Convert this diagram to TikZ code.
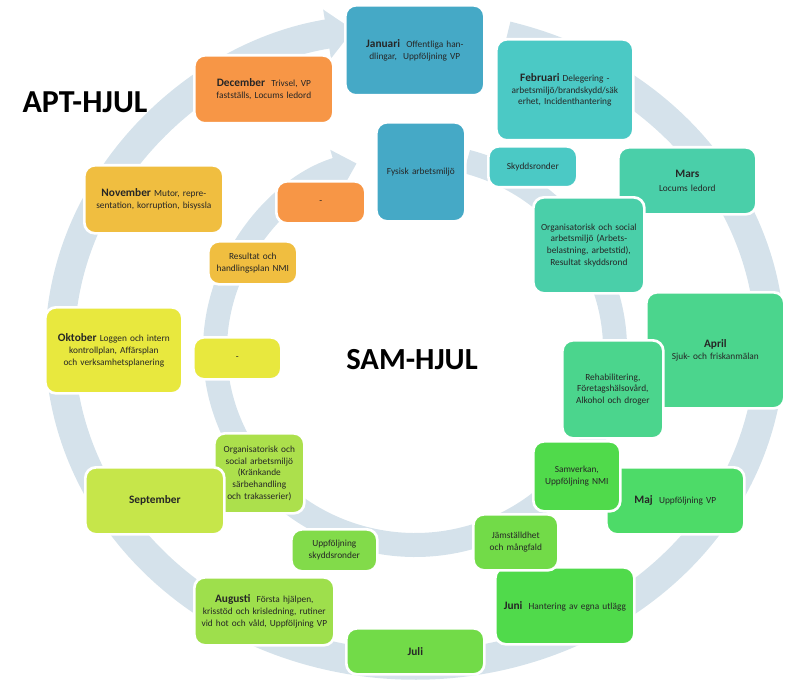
\documentclass[tikz,border=0pt]{standalone}
\usepackage{fontspec}
\setmainfont{Carlito}
\usetikzlibrary{arrows.meta}
\definecolor{ring}{HTML}{D5E2EB}
\definecolor{cJan}{HTML}{45A9C6}
\definecolor{cFeb}{HTML}{4BC9C5}
\definecolor{cMar}{HTML}{4ACFA9}
\definecolor{cApr}{HTML}{4BD58D}
\definecolor{cMaj}{HTML}{4DDB68}
\definecolor{cJun}{HTML}{50DA4B}
\definecolor{cJul}{HTML}{72DB48}
\definecolor{cUpp}{HTML}{82DB4A}
\definecolor{cAug}{HTML}{9EDF4C}
\definecolor{cOrgK}{HTML}{ACE04C}
\definecolor{cSep}{HTML}{C6E64A}
\definecolor{cOkt}{HTML}{E8E83E}
\definecolor{cNov}{HTML}{F0BE40}
\definecolor{cDec}{HTML}{F79646}
\begin{document}
\begin{tikzpicture}[x=0.75pt,y=-0.75pt,
  bx/.style n args={4}{draw=white,line width=2pt,rounded corners=8pt,anchor=north west,
    minimum width={(#3-#1)*0.75pt},minimum height={(#4-#2)*0.75pt},
    text width={(#3-#1-12)*0.75pt},align=center,inner sep=2pt,
    font=\fontsize{7pt}{8.8pt}\selectfont,text=black!85},
  ringline/.style={ring,line width=22pt,-{Triangle[width=36pt,length=20pt]}}]
\useasboundingbox (0,0) rectangle (812,684);
% rings
\draw[ringline] (506.9,35.9) arc[start angle=75,end angle=-260,x radius=266.25pt,y radius=240pt];
\draw[ringline,line width=18pt,-{Triangle[width=30pt,length=16pt]}] (466.8,161.6) arc[start angle=75,end angle=-253,x radius=150pt,y radius=146.25pt];
% titles
\node[font=\bfseries\fontsize{24pt}{28pt}\selectfont] (apt) at (85,102) {APT-HJUL};
\node[font=\bfseries\fontsize{23pt}{28pt}\selectfont] (sam) at (412,360) {SAM-HJUL};
% boxes
\node[bx={344}{4}{483}{94},fill=cJan] (jan) at (344,4) {\textbf{\fontsize{8.5pt}{10pt}\selectfont Januari}\ \ Offentliga handlingar,\ \ Uppföljning VP};
\node[bx={375}{121}{464}{220},fill=cJan] (fys) at (375,121) {Fysisk arbetsmiljö};
\node[bx={495}{38}{632}{139},fill=cFeb] (feb) at (495,38) {\textbf{\fontsize{8.5pt}{10pt}\selectfont Februari} Delegering - arbetsmiljö/brandskydd/säk erhet, Incidenthantering};
\node[bx={487}{145}{576}{186},fill=cFeb] (sky) at (487,145) {Skyddsronder};
\node[bx={617}{146}{755}{213},fill=cMar] (mar) at (617,146) {\textbf{\fontsize{8.5pt}{10pt}\selectfont Mars}\\[2pt]Locums ledord};
\node[bx={532}{196}{643}{292},fill=cMar] (org) at (532,196) {Organisatorisk och social arbetsmiljö (Arbetsbelastning, arbetstid), Resultat skyddsrond};
\node[bx={645}{291}{783}{407},fill=cApr] (apr) at (645,291) {\textbf{\fontsize{8.5pt}{10pt}\selectfont April}\\Sjuk- och friskanmälan};
\node[bx={561}{339}{662}{437},fill=cApr] (reh) at (561,339) {Rehabilitering, Företagshälsovård, Alkohol och droger};
\node[bx={605}{466}{743}{533},fill=cMaj] (maj) at (605,466) {\textbf{\fontsize{8.5pt}{10pt}\selectfont Maj}\ \ Uppföljning VP};
\node[bx={532}{440}{619}{510},fill=cJun] (sam2) at (532,440) {Samverkan, Uppföljning NMI};
\node[bx={494}{566}{633}{643},fill=cJun] (jun) at (494,566) {\textbf{\fontsize{8.5pt}{10pt}\selectfont Juni}\ \ Hantering av egna utlägg};
\node[bx={472}{513}{557}{569},fill=cJul] (jam) at (472,513) {Jämställdhet och mångfald};
\node[bx={345}{627}{483}{673},fill=cJul] (jul) at (345,627) {\textbf{\fontsize{8.5pt}{10pt}\selectfont Juli}};
\node[bx={290}{528}{376}{570},fill=cUpp] (upp) at (290,528) {Uppföljning skyddsronder};
\node[bx={193}{576}{333}{644},fill=cAug] (aug) at (193,576) {\textbf{\fontsize{8.5pt}{10pt}\selectfont Augusti}\ \ Första hjälpen, krisstöd och krisledning, rutiner vid hot och våld, Uppföljning VP};
\node[bx={213}{432}{303}{512},fill=cOrgK] (orgk) at (213,432) {Organisatorisk och social arbetsmiljö (Kränkande särbehandling och trakasserier)};
\node[bx={84}{466}{223}{533},fill=cSep] (sep) at (84,466) {\textbf{\fontsize{8.5pt}{10pt}\selectfont September}};
\node[bx={44}{306}{181}{392},fill=cOkt] (okt) at (44,306) {\textbf{\fontsize{8.5pt}{10pt}\selectfont Oktober} Loggen och intern kontrollplan, Affärsplan och verksamhetsplanering};
\node[bx={192}{336}{280}{378},fill=cOkt] (oktd) at (192,336) {-};
\node[bx={83}{164}{222}{232},fill=cNov] (nov) at (83,164) {\textbf{\fontsize{8.5pt}{10pt}\selectfont November} Mutor, representation, korruption, bisyssla};
\node[bx={207}{240}{296}{283},fill=cNov] (res) at (207,240) {Resultat och handlingsplan NMI};
\node[bx={193}{54}{332}{122},fill=cDec] (dec) at (193,54) {\textbf{\fontsize{8.5pt}{10pt}\selectfont December}\ \ Trivsel, VP fastställs, Locums ledord};
\node[bx={275}{180}{364}{222},fill=cDec] (decd) at (275,180) {-};
\end{tikzpicture}
\end{document}
